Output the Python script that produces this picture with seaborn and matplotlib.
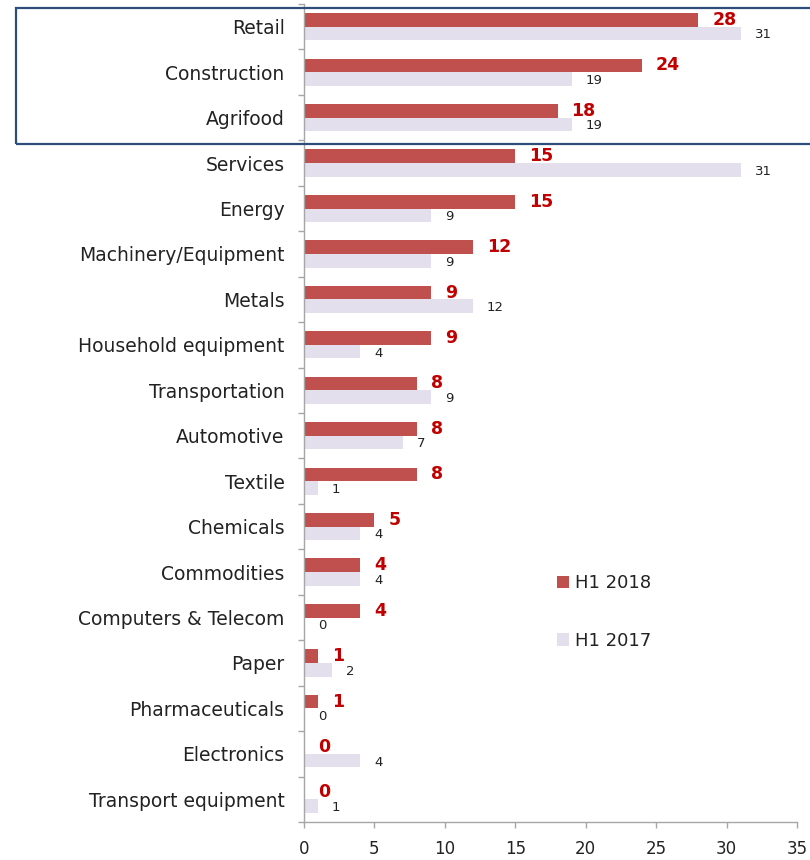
import matplotlib
matplotlib.use("Agg")
import matplotlib.pyplot as plt
from matplotlib.patches import Rectangle
import seaborn as sns
import pandas as pd
import numpy as np

categories = [
    "Retail", "Construction", "Agrifood", "Services", "Energy",
    "Machinery/Equipment", "Metals", "Household equipment", "Transportation",
    "Automotive", "Textile", "Chemicals", "Commodities", "Computers & Telecom",
    "Paper", "Pharmaceuticals", "Electronics", "Transport equipment",
]
h1_2018 = [28, 24, 18, 15, 15, 12, 9, 9, 8, 8, 8, 5, 4, 4, 1, 1, 0, 0]
h1_2017 = [31, 19, 19, 31, 9, 9, 12, 4, 9, 7, 1, 4, 4, 0, 2, 0, 4, 1]
series = ["H1 2018", "H1 2017"]
x_ticks = [0, 5, 10, 15, 20, 25, 30, 35]

df = pd.DataFrame({
    "sector": categories * 2,
    "period": [series[0]] * len(categories) + [series[1]] * len(categories),
    "count": h1_2018 + h1_2017,
})

sns.set_theme(style="white")
plt.rcParams["font.family"] = ["DejaVu Sans"]

fig = plt.figure(figsize=(8.1, 8.6), dpi=100)
ax = fig.add_axes([0.3753, 0.0442, 0.984 - 0.3753, 0.9953 - 0.0442])

palette = {"H1 2018": "#c0504d", "H1 2017": "#e4dfec"}
sns.barplot(data=df, y="sector", x="count", hue="period", order=categories,
            hue_order=series, palette=palette, orient="h", width=0.6,
            gap=0, saturation=1, linewidth=0, ax=ax, legend=True)

ax.set_xlim(0, 35)
ax.set_ylim(len(categories) - 0.5, -0.5)
ax.set_xticks(x_ticks)
ax.set_xlabel("")
ax.set_ylabel("")

# value labels next to each bar
label_styles = [
    dict(color="#c00000", fontsize=12.5, fontweight="bold", xytext=(10, 0)),
    dict(color="#222222", fontsize=9.5, fontweight="normal", xytext=(10, -1)),
]
for container, style in zip(ax.containers, label_styles):
    for bar in container:
        w = bar.get_width()
        yc = bar.get_y() + bar.get_height() / 2
        ax.annotate(f"{w:.0f}", xy=(w, yc), xytext=style["xytext"],
                    textcoords="offset points", ha="left", va="center",
                    color=style["color"], fontsize=style["fontsize"],
                    fontweight=style["fontweight"])

# axes styling
for side in ["top", "right"]:
    ax.spines[side].set_visible(False)
for side in ["left", "bottom"]:
    ax.spines[side].set_color("#a6a6a6")
    ax.spines[side].set_linewidth(1.0)

ax.tick_params(axis="y", which="major", length=0, pad=14, labelsize=13.5,
               labelcolor="#222222")
ax.set_yticks(np.arange(-0.5, len(categories), 1.0), minor=True)
ax.tick_params(axis="y", which="minor", length=4, color="#a6a6a6", width=1,
               direction="out", left=True)
ax.tick_params(axis="x", which="major", length=4, color="#a6a6a6", width=1,
               direction="out", bottom=True, pad=9, labelsize=12,
               labelcolor="#222222")

# legend
handles, labels = ax.get_legend_handles_labels()
ax.legend(handles, labels, loc="center left",
          bbox_to_anchor=(557 / 810, 1 - 612 / 860),
          bbox_transform=fig.transFigure, frameon=False, fontsize=13,
          handlelength=0.65, handleheight=0.65, handletextpad=0.35,
          labelspacing=2.2, borderpad=0, borderaxespad=0,
          labelcolor="#222222")

# highlight frame around the top three sectors
fig.patches.append(Rectangle((16 / 810, 1 - 144 / 860), 1.0, (144 - 8) / 860,
                             transform=fig.transFigure, fill=False,
                             edgecolor="#2e4d7b", linewidth=1.6,
                             clip_on=False))

fig.savefig("out.png", dpi=100)
